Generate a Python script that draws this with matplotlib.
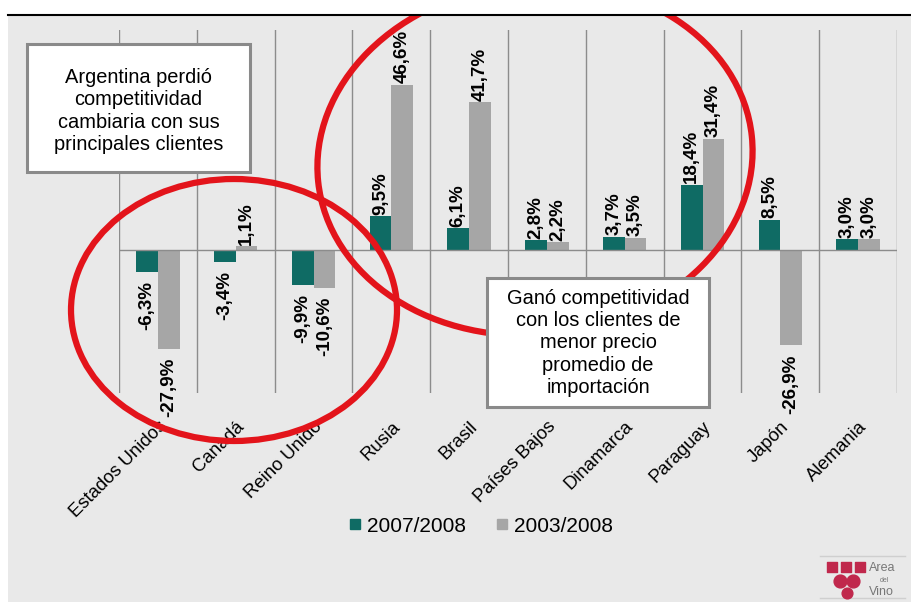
import matplotlib
matplotlib.use("Agg")
import matplotlib.pyplot as plt
from matplotlib.patches import Ellipse, Rectangle
from matplotlib.lines import Line2D
import numpy as np

paises = ["Estados Unidos", "Canadá", "Reino Unido", "Rusia", "Brasil",
          "Países Bajos", "Dinamarca", "Paraguay", "Japón", "Alemania"]
var_2007_2008 = [-6.3, -3.4, -9.9, 9.5, 6.1, 2.8, 3.7, 18.4, 8.5, 3.0]
var_2003_2008 = [-27.9, 1.1, -10.6, 46.6, 41.7, 2.2, 3.5, 31.4, -26.9, 3.0]
series = ["2007/2008", "2003/2008"]

TEAL = "#0f6b64"
GRIS = "#a6a6a6"
ROJO = "#e3141b"
FONDO = "#e9e9e9"
BORDE = "#8a8a8a"
FUENTE = "Liberation Sans"

W, H = 911, 602
fig = plt.figure(figsize=(W / 100, H / 100), dpi=100)
fig.patch.set_facecolor("white")

# fondo gris del panel
fig.patches.append(Rectangle((8 / W, 0), 1, (H - 15) / H, transform=fig.transFigure,
                             facecolor=FONDO, edgecolor="none", zorder=0))

def px_axes(x0, y0, x1, y1):
    return [x0 / W, 1 - y1 / H, (x1 - x0) / W, (y1 - y0) / H]

ax = fig.add_axes(px_axes(119, 30, 897, 393))
ax.set_facecolor("none")
ax.set_zorder(1)

x = np.arange(len(paises))
bw = 0.28
ax.bar(x - bw / 2, var_2007_2008, bw, color=TEAL, zorder=3)
ax.bar(x + bw / 2, var_2003_2008, bw, color=GRIS, zorder=3)

ax.set_xlim(-0.5, len(paises) - 0.5)
ax.set_ylim(-40.3, 62)
for b in np.arange(-0.5, len(paises), 1):
    ax.axvline(b, color="#8c8c8c", lw=1, zorder=1)
ax.axhline(0, color="#8c8c8c", lw=1, zorder=4)

for s in ax.spines.values():
    s.set_visible(False)
ax.set_yticks([])
ax.set_xticks(x)
ax.set_xticklabels(paises, rotation=45, ha="right", rotation_mode="anchor",
                   fontsize=13.3, family=FUENTE)
ax.tick_params(axis="x", length=0, pad=18)

def etiqueta(v):
    return ("%.1f%%" % v).replace(".", ",")

for xs, vals in ((x - bw / 2, var_2007_2008), (x + bw / 2, var_2003_2008)):
    for xi, v in zip(xs, vals):
        off = 0.4 if v >= 0 else -2.5
        ax.text(xi, v + off, etiqueta(v), rotation=90, ha="center",
                va="bottom" if v >= 0 else "top", fontsize=13.5, fontweight="bold",
                family=FUENTE, zorder=5)

# leyenda
handles = [Line2D([], [], ls="none", marker="s", markersize=7, color=c) for c in (TEAL, GRIS)]
fig.legend(handles, series, loc="center", bbox_to_anchor=(481 / W, 1 - 526 / H),
           ncol=2, frameon=False, handlelength=0.6, handletextpad=0.3, columnspacing=1.4,
           prop={"family": FUENTE, "size": 15})

# capa de anotaciones en pixeles
ov = fig.add_axes([0, 0, 1, 1])
ov.set_zorder(2)
ov.set_xlim(0, W)
ov.set_ylim(H, 0)
ov.axis("off")
ov.patch.set_alpha(0)

ov.add_patch(Ellipse((535, 159), 436, 352, angle=-6, fill=False, ec=ROJO, lw=4.5, zorder=1))
ov.add_patch(Ellipse((234, 310), 326, 262, angle=0, fill=False, ec=ROJO, lw=4.5, zorder=1))
ov.add_patch(Rectangle((0, 0), W, 15, facecolor="white", edgecolor="none", zorder=2))
ov.plot([8, W], [14.5, 14.5], color="black", lw=1.5, zorder=2)

cajas = [
    ((27, 44, 250, 172), 111, "Argentina perdió\ncompetitividad\ncambiaria con sus\nprincipales clientes"),
    ((487, 278, 709, 407), 343, "Ganó competitividad\ncon los clientes de\nmenor precio\npromedio de\nimportación"),
]
for (x0, y0, x1, y1), yc, txt in cajas:
    ov.add_patch(Rectangle((x0, y0), x1 - x0, y1 - y0, facecolor="white", edgecolor=BORDE,
                           lw=2.2, zorder=3))
    ov.text((x0 + x1) / 2, yc, txt, ha="center", va="center", fontsize=14.4,
            family=FUENTE, linespacing=1.21, zorder=4)

# logo
VINO = "#c0284c"
ov.plot([820, 905], [556, 556], color="#cfcfcf", lw=1, zorder=3)
ov.plot([820, 905], [598, 598], color="#cfcfcf", lw=1, zorder=3)
ov.scatter([832, 846, 860], [567, 567, 567], s=60, color=VINO, marker="s", zorder=4)
ov.scatter([840, 853], [581, 581], s=85, color=VINO, zorder=4)
ov.scatter([847], [593], s=60, color=VINO, zorder=4)
ov.text(869, 568, "Area", fontsize=9, color="#777777", va="center", ha="left", family=FUENTE)
ov.text(880, 581, "del", fontsize=5, color="#777777", va="center", ha="left", family=FUENTE)
ov.text(869, 592, "Vino", fontsize=9, color="#777777", va="center", ha="left", family=FUENTE)

fig.savefig("out.png", dpi=100)
